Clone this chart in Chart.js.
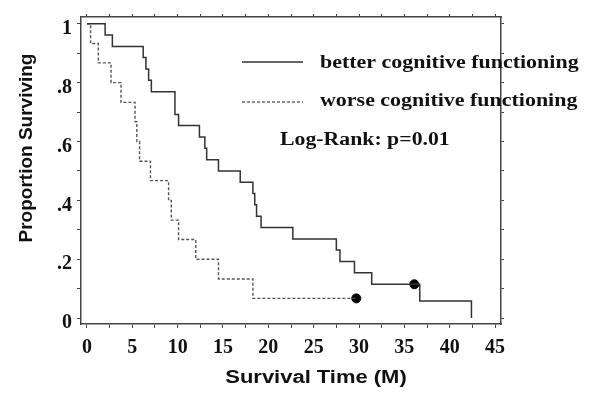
<!DOCTYPE html>
<html>
<head>
<meta charset="utf-8">
<script src="https://cdn.jsdelivr.net/npm/chart.js@4.4.1/dist/chart.umd.min.js"></script>
<style>
  html, body { margin: 0; padding: 0; background: #fff; }
  #wrap { width: 592px; height: 395px; }
</style>
</head>
<body>
<div id="wrap"><canvas id="km"></canvas></div>
<script>
// Kaplan-Meier data (time in months, proportion surviving)
var betterTimes = [0, 2.0, 2.8, 6.2, 6.5, 6.8, 7.1, 9.7, 10.1, 12.4, 13.0, 13.2, 14.5, 16.9, 18.3, 18.5, 18.7, 19.2, 22.7, 27.5, 27.9, 29.5, 31.4, 36.1, 36.7, 42.4];
var betterSurv  = [1, 0.962, 0.923, 0.885, 0.846, 0.808, 0.769, 0.692, 0.654, 0.615, 0.577, 0.538, 0.500, 0.462, 0.423, 0.385, 0.346, 0.308, 0.269, 0.231, 0.192, 0.154, 0.115, 0.115, 0.058, 0];

var worseTimes = [0, 0.4, 1.25, 2.65, 3.75, 5.3, 5.5, 5.8, 7.0, 9.0, 9.3, 10.1, 12.0, 14.5, 18.3, 29.7];
var worseSurv  = [1, 0.933, 0.867, 0.8, 0.733, 0.667, 0.6, 0.533, 0.467, 0.4, 0.333, 0.267, 0.2, 0.133, 0.067, 0.067];

// censored observations (filled dots)
var censorTimes = [29.7, 36.1];
var censorSurv  = [0.067, 0.115];

var xTickValues = [0, 2.5, 5, 7.5, 10, 12.5, 15, 17.5, 20, 22.5, 25, 27.5, 30, 32.5, 35, 37.5, 40, 42.5, 45];
var yTickValues = [0, 0.1, 0.2, 0.3, 0.4, 0.5, 0.6, 0.7, 0.8, 0.9, 1];

var legendLabels = ['better cognitive functioning', 'worse cognitive functioning'];
var statText = 'Log-Rank: p=0.01';
var xTitle = 'Survival Time (M)';
var yTitle = 'Proportion Surviving';

function toPoints(xs, ys) {
  return xs.map(function(x, i) { return { x: x, y: ys[i] }; });
}

function setTicks(values) {
  return function(scale) {
    scale.ticks = values.map(function(v) { return { value: v }; });
  };
}

var serifBold = { family: '"Liberation Serif", "Times New Roman", serif', size: 20, weight: 'bold' };
var axisColor = '#444';

// the original picture is a bit wider than tall, so text is stretched sideways
function wideText(ctx, text, x, y, sx) {
  ctx.save();
  ctx.translate(x, y);
  ctx.scale(sx, 1);
  ctx.fillText(text, 0, 0);
  ctx.restore();
}

// legend block inside the plot, plus both axis titles
var annotations = {
  id: 'annotations',
  afterDraw: function(chart) {
    var ctx = chart.ctx;
    ctx.save();
    ctx.strokeStyle = '#333';
    ctx.lineWidth = 1.4;
    ctx.beginPath();
    ctx.moveTo(242, 62);
    ctx.lineTo(303, 62);
    ctx.stroke();
    ctx.strokeStyle = '#666';
    ctx.setLineDash([3, 2]);
    ctx.beginPath();
    ctx.moveTo(242, 102);
    ctx.lineTo(303, 102);
    ctx.stroke();
    ctx.setLineDash([]);

    ctx.fillStyle = '#111';
    ctx.font = 'bold 18px "Liberation Serif", "Times New Roman", serif';
    ctx.textBaseline = 'middle';
    ctx.textAlign = 'left';
    wideText(ctx, legendLabels[0], 320, 63, 1.22);
    wideText(ctx, legendLabels[1], 320, 101, 1.22);
    wideText(ctx, statText, 280, 140, 1.21);

    ctx.font = 'bold 18px "Liberation Sans", Arial, sans-serif';
    ctx.textAlign = 'center';
    wideText(ctx, xTitle, 316, 378, 1.22);

    ctx.save();
    ctx.translate(27, 148);
    ctx.rotate(-Math.PI / 2);
    ctx.font = 'bold 19px "Liberation Sans", Arial, sans-serif';
    ctx.fillText(yTitle, 0, 0);
    ctx.restore();
    ctx.restore();
  }
};

new Chart(document.getElementById('km').getContext('2d'), {
  type: 'scatter',
  data: {
    datasets: [{
      label: legendLabels[0],
      data: toPoints(betterTimes, betterSurv),
      showLine: true,
      stepped: 'before',
      borderColor: '#333',
      borderWidth: 1.5,
      pointRadius: 0,
      fill: false
    }, {
      label: legendLabels[1],
      data: toPoints(worseTimes, worseSurv),
      showLine: true,
      stepped: 'before',
      borderColor: '#555',
      borderWidth: 1.4,
      borderDash: [3, 2],
      pointRadius: 0,
      fill: false
    }, {
      label: 'censored',
      data: toPoints(censorTimes, censorSurv),
      showLine: false,
      pointRadius: 4.5,
      pointBackgroundColor: '#000',
      pointBorderColor: '#000'
    }]
  },
  options: {
    responsive: true,
    maintainAspectRatio: false,
    animation: false,
    layout: { padding: 0 },
    plugins: {
      legend: { display: false },
      tooltip: { enabled: false }
    },
    scales: {
      x: {
        type: 'linear',
        position: 'bottom',
        min: -0.66,
        max: 45.66,
        afterBuildTicks: setTicks(xTickValues),
        afterFit: function(scale) { scale.height = 71; },
        border: { display: true, color: axisColor, width: 1.5 },
        grid: { drawOnChartArea: false, drawTicks: true, tickLength: 4, color: axisColor },
        ticks: {
          color: '#111',
          font: serifBold,
          padding: 8,
          maxRotation: 0,
          autoSkip: false,
          callback: function(v) { return v % 5 === 0 ? String(v) : ''; }
        }
      },
      xTop: {
        type: 'linear',
        position: 'top',
        min: -0.66,
        max: 45.66,
        afterBuildTicks: setTicks(xTickValues),
        afterFit: function(scale) { scale.height = 8; },
        border: { display: true, color: axisColor, width: 1.5 },
        grid: { drawOnChartArea: false, drawTicks: true, tickLength: 3, color: axisColor },
        ticks: { display: false }
      },
      y: {
        type: 'linear',
        position: 'left',
        min: -0.02,
        max: 1.023,
        afterBuildTicks: setTicks(yTickValues),
        afterFit: function(scale) { scale.width = 81; },
        border: { display: true, color: axisColor, width: 1.5 },
        grid: { drawOnChartArea: false, drawTicks: true, tickLength: 4, color: axisColor },
        ticks: {
          color: '#111',
          font: serifBold,
          padding: 5,
          labelOffset: 5,
          autoSkip: false,
          callback: function(v) {
            var r = Math.round(v * 10);
            if (r % 2 !== 0) return '';
            if (r === 0) return '0';
            if (r === 10) return '1';
            return '.' + r;
          }
        }
      },
      yRight: {
        type: 'linear',
        position: 'right',
        min: -0.02,
        max: 1.023,
        afterBuildTicks: setTicks(yTickValues),
        afterFit: function(scale) { scale.width = 91; },
        border: { display: true, color: axisColor, width: 1.5 },
        grid: { drawOnChartArea: false, drawTicks: true, tickLength: 3, color: axisColor },
        ticks: { display: false }
      }
    }
  },
  plugins: [annotations]
});
</script>
</body>
</html>
